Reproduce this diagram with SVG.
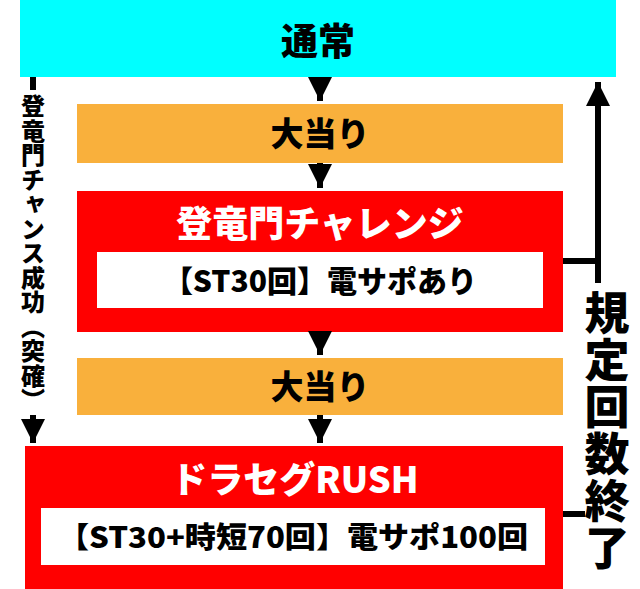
<svg xmlns="http://www.w3.org/2000/svg" width="640" height="589" viewBox="0 0 640 589">
<style>
text{font-family:"Noto Sans CJK JP","Noto Sans",sans-serif;font-weight:900;text-anchor:middle}
.w{fill:#fff}.k{fill:#000}
.ln{stroke:#000;stroke-width:6;fill:none}
.vt{writing-mode:vertical-rl;text-anchor:start}
</style>
<defs><marker id="a" viewBox="0 0 10 10" refX="10" refY="5" markerWidth="4" markerHeight="4" orient="auto" markerUnits="strokeWidth"><path d="M0,0L10,5L0,10z" fill="#000"/></marker></defs>
<g id="n1"><rect x="20" y="0" width="596" height="77" fill="#00ffff"/><text x="318" y="55" font-size="37" class="k">通常</text></g>
<g id="n2"><rect x="77" y="104" width="486" height="59" fill="#f9b03c"/><text x="320" y="146" font-size="33" class="k">大当り</text></g>
<g id="n3"><rect x="77" y="191" width="486" height="141" fill="#ff0000"/><text x="320" y="237" font-size="36" class="w">登竜門チャレンジ</text><rect x="97" y="252" width="446" height="56" fill="#fff"/><text x="320" y="292" font-size="30" class="k">【ST30回】電サポあり</text></g>
<g id="n4"><rect x="77" y="358" width="486" height="57" fill="#f9b03c"/><text x="320" y="399" font-size="33" class="k">大当り</text></g>
<g id="n5"><rect x="25" y="446" width="538" height="143" fill="#ff0000"/><text x="295" y="493" font-size="36" class="w">ドラセグRUSH</text><rect x="41" y="508" width="504" height="57" fill="#fff"/><text x="293" y="548" font-size="29" class="k" textLength="470" lengthAdjust="spacingAndGlyphs">【ST30+時短70回】電サポ100回</text></g>
<g id="connectors">
<path class="ln" d="M320 77V101" marker-end="url(#a)"/>
<path class="ln" d="M320 163V188" marker-end="url(#a)"/>
<path class="ln" d="M320 332V355" marker-end="url(#a)"/>
<path class="ln" d="M320 415V443" marker-end="url(#a)"/>
<path class="ln" d="M33 77V90M33 415V443" marker-end="url(#a)"/>
<path class="ln" d="M563 261H598M598 283V82" marker-end="url(#a)"/>
<path class="ln" d="M563 514H585"/>
</g>
<g id="labels">
<text class="k vt" x="33" y="94" font-size="24" letter-spacing="0.5">登竜門チャンス成功（突確）</text>
<text class="k vt" x="607" y="290" font-size="45" letter-spacing="2">規定回数終了</text>
</g>
</svg>
